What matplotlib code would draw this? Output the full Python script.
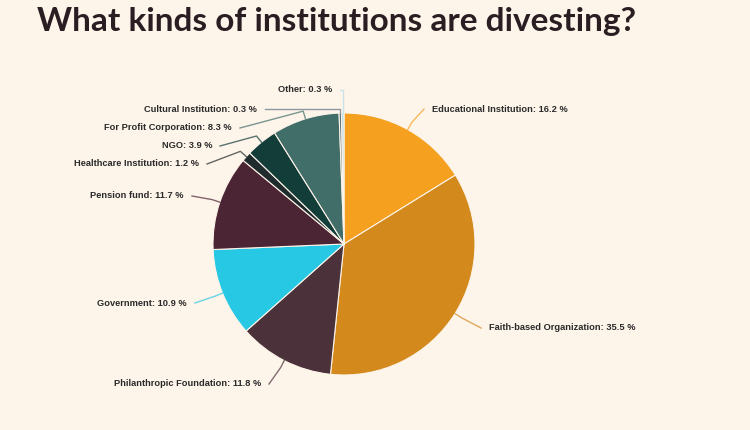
import numpy as np
import matplotlib.pyplot as plt

categories = ['Educational Institution', 'Faith-based Organization', 'Philanthropic Foundation',
              'Government', 'Pension fund', 'Healthcare Institution', 'NGO',
              'For Profit Corporation', 'Cultural Institution', 'Other']
shares = [16.2, 35.5, 11.8, 10.9, 11.7, 1.2, 3.9, 8.3, 0.3, 0.3]
colors = ['#F5A01F', '#D3891C', '#4B323A', '#27C8E3', '#4C2535', '#1F2B2C',
          '#123D39', '#416E69', '#5E7480', '#B5DDE8']

# label anchor positions in pixels (x, y from top), and alignment
label_pos = [(432, 109, 'left'), (489, 328, 'left'), (261, 384, 'right'),
             (187, 303, 'right'), (184, 196, 'right'), (199, 164, 'right'),
             (212, 146, 'right'), (232, 128, 'right'), (257, 109, 'right'),
             (332, 90, 'right')]

bg = '#FDF4EA'
W, H = 750, 430
cx, cy, r = 344, 244, 131

fig = plt.figure(figsize=(7.5, 4.3), dpi=100, facecolor=bg)
ax = fig.add_axes([0, 0, 1, 1])
ax.set_facecolor(bg)

wedges, _ = ax.pie(shares, colors=colors, startangle=90, counterclock=False,
                   center=(cx, H - cy), radius=r, normalize=True,
                   wedgeprops=dict(edgecolor=bg, linewidth=0.8))
ax.set_xlim(0, W)
ax.set_ylim(0, H)
ax.set_aspect('auto')
ax.axis('off')

for w, name, val, (tx, ty, ha) in zip(wedges, categories, shares, label_pos):
    mid = np.deg2rad((w.theta1 + w.theta2) / 2)
    x0 = cx + r * np.cos(mid)
    y0 = H - cy + r * np.sin(mid)
    x1 = cx + (r + 8) * np.cos(mid)
    y1 = H - cy + (r + 8) * np.sin(mid)
    ty = H - ty
    ex = tx - 8 if ha == 'left' else tx + 8
    if name in ('Other', 'Cultural Institution'):
        x1, y1 = x0, ty
    ax.plot([x0, x1, ex], [y0, y1, ty], color=w.get_facecolor(), lw=1, alpha=0.7)
    ax.text(tx, ty, f'{name}: {val} %', ha=ha, va='center', fontsize=6.7,
            fontweight='bold', color='#2a2a2a', family='Liberation Sans')

fig.text(37 / W, 1 - 21 / H, 'What kinds of institutions are divesting?', fontsize=24,
         fontweight='bold', color='#2B1E22', va='center', ha='left', family='Lato')

fig.savefig('out.png', dpi=100, facecolor=bg)
